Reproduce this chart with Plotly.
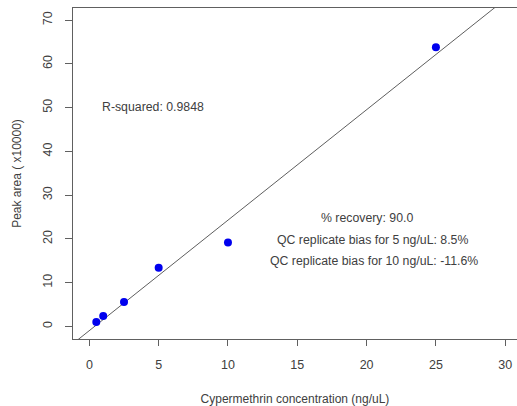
import numpy as np
import plotly.graph_objects as go

# Data
conc = [0.5, 1, 2.5, 5, 10, 25]
peak_area = [1.0, 2.36, 5.56, 13.4, 19.15, 63.8]
x_ticks = [0, 5, 10, 15, 20, 25, 30]
y_ticks = [0, 10, 20, 30, 40, 50, 60, 70]
r2_label = "R-squared: 0.9848"
stats_labels = ["% recovery: 90.0",
                "QC replicate bias for 5 ng/uL: 8.5%",
                "QC replicate bias for 10 ng/uL: -11.6%"]

X_RANGE = [-1.18, 30.85]
Y_RANGE = [-2.9, 72.8]

slope, intercept = np.polyfit(conc, peak_area, 1)
line_x = np.array(X_RANGE)
line_y = slope * line_x + intercept

FONT = "Liberation Sans, Arial, sans-serif"
AX = "#606060"
TXT = "#404040"

fig = go.Figure()
fig.add_trace(go.Scatter(x=line_x, y=line_y, mode="lines",
                         line=dict(color="#5e5e5e", width=1), hoverinfo="skip"))
fig.add_trace(go.Scatter(x=conc, y=peak_area, mode="markers",
                         marker=dict(color="#0000EE", size=8), cliponaxis=False))

fig.add_annotation(x=4.6, y=50.2, text=r2_label, showarrow=False,
                   xref="x", yref="y", font=dict(family=FONT, size=12.3, color=TXT))
for i, (xx, yy) in enumerate([(20.0, 24.7), (20.4, 19.8), (20.5, 14.9)]):
    fig.add_annotation(x=xx, y=yy, text=stats_labels[i], showarrow=False,
                       xref="x", yref="y", font=dict(family=FONT, size=12.3, color=TXT))

fig.update_layout(
    width=517, height=406,
    margin=dict(l=73, r=0, t=8, b=67),
    plot_bgcolor="white", paper_bgcolor="white",
    showlegend=False,
    font=dict(family=FONT, size=12, color=TXT),
)
fig.update_xaxes(range=X_RANGE, tickvals=x_ticks, showgrid=False, zeroline=False,
                 showline=True, linecolor=AX, linewidth=1, mirror=True,
                 ticks="outside", ticklen=6, tickcolor=AX, ticklabelstandoff=8,
                 tickfont=dict(family=FONT, size=12.5, color=TXT),
                 title=dict(text="Cypermethrin concentration (ng/uL)", standoff=23,
                            font=dict(family=FONT, size=12, color=TXT)))
fig.update_yaxes(range=Y_RANGE, tickvals=y_ticks, showgrid=False, zeroline=False,
                 showline=True, linecolor=AX, linewidth=1, mirror=False,
                 ticks="outside", ticklen=7, tickcolor=AX, tickangle=-90,
                 ticklabelstandoff=8,
                 tickfont=dict(family=FONT, size=12.5, color=TXT),
                 title=dict(text="Peak area ( x10000)", standoff=16,
                            font=dict(family=FONT, size=12, color=TXT)))

fig.write_html("out.html")
